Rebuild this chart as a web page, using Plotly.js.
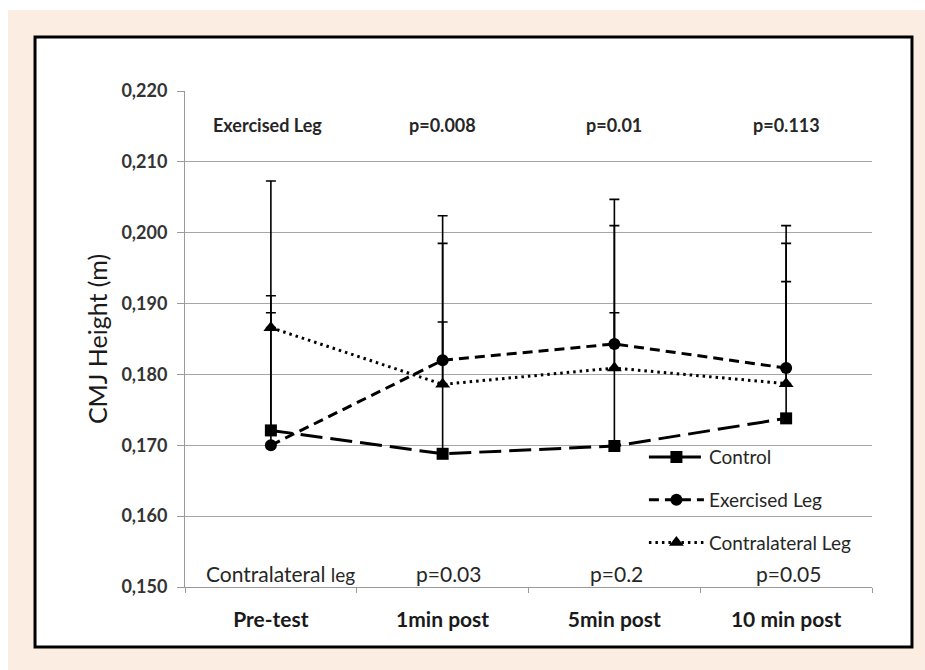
<!DOCTYPE html>
<html>
<head>
<meta charset="utf-8">
<script src="https://cdn.plot.ly/plotly-3.0.1.min.js"></script>
<style>html,body{margin:0;padding:0;background:#fff;}#chart{width:925px;height:670px;}</style>
</head>
<body>
<div id="chart"></div>
<script>
var categories = ["Pre-test", "1min post", "5min post", "10 min post"];
var controlMean = [0.1721, 0.1688, 0.1699, 0.1738];
var controlSD = [0.0166, 0.0186, 0.0188, 0.0193];
var exercisedMean = [0.1700, 0.1820, 0.1843, 0.1809];
var exercisedSD = [0.0211, 0.0204, 0.0204, 0.0201];
var contraMean = [0.1866, 0.1786, 0.1809, 0.1787];
var contraSD = [0.0207, 0.0199, 0.0201, 0.0198];
var topLabels = ["Exercised Leg", "p=0.008", "p=0.01", "p=0.113"];
var bottomLabels = ["Contralateral <span style='font-size:19px'>leg</span>", "p=0.03", "p=0.2", "p=0.05"];
var yTicks = [0.150, 0.160, 0.170, 0.180, 0.190, 0.200, 0.210, 0.220];

var FONT = "Lato, 'Open Sans', sans-serif";
function zeros(a){ return a.map(function(){ return 0; }); }
function errBar(sd){
  return {type:'data', symmetric:false, array:sd, arrayminus:zeros(sd), color:'#000', thickness:1.6, width:5};
}
var traces = [
  {x:categories, y:controlMean, name:'Control', type:'scatter', mode:'lines+markers',
   line:{color:'#000', width:3, dash:'22px,8px'}, marker:{symbol:'square', size:12, color:'#000'},
   error_y:errBar(controlSD), legendgroup:'a'},
  {x:categories, y:exercisedMean, name:'Exercised Leg', type:'scatter', mode:'lines+markers',
   line:{color:'#000', width:3, dash:'10px,6px'}, marker:{symbol:'circle', size:12, color:'#000'},
   error_y:errBar(exercisedSD), legendgroup:'b'},
  {x:categories, y:contraMean, name:'Contralateral Leg', type:'scatter', mode:'lines+markers',
   line:{color:'#000', width:3, dash:'2.5px,4px'}, marker:{symbol:'triangle-up', size:13, color:'#000'},
   error_y:errBar(contraSD), legendgroup:'c'}
];

var annotations = [];
topLabels.forEach(function(t, i){
  annotations.push({x:i, y:0.2152, xref:'x', yref:'y', text:t, showarrow:false,
    xshift: i===0 ? -3 : 0,
    font:{family:FONT, size:18, color:'#262626', weight:'bold'}});
});
bottomLabels.forEach(function(t, i){
  annotations.push({x:i, y:0.1519, xref:'x', yref:'y', text:t, showarrow:false,
    xshift: i===0 ? 10 : (i===1 ? 6 : 2),
    font:{family:FONT, size:21, color:'#262626'}});
});

var layout = {
  width:925, height:670,
  margin:{l:185, r:53, t:91, b:83},
  paper_bgcolor:'#ffffff', plot_bgcolor:'rgba(0,0,0,0)',
  separators:', ',
  font:{family:FONT, color:'#262626'},
  showlegend:true,
  legend:{x:0.668, y:0.300, xanchor:'left', yanchor:'top', bgcolor:'rgba(0,0,0,0)', itemwidth:55,
    font:{family:FONT, size:19, color:'#262626'}, traceorder:'grouped', tracegroupgap:15},
  xaxis:{type:'category', range:[-0.5, 3.5], showgrid:false, showline:true, linecolor:'#9a9a9a', linewidth:1,
    ticks:'outside', tickson:'boundaries', ticklen:5, tickcolor:'#9a9a9a', ticklabelstandoff:14,
    tickfont:{family:FONT, size:21, color:'#1a1a1a', weight:'bold'}, zeroline:false},
  yaxis:{range:[0.150, 0.220], tickvals:yTicks, tickformat:'.3f', showgrid:true, gridcolor:'#a6a6a6', gridwidth:1,
    showline:true, linecolor:'#9a9a9a', linewidth:1, ticks:'outside', ticklen:7, tickcolor:'#9a9a9a',
    ticklabelstandoff:6, zeroline:false,
    tickfont:{family:FONT, size:18, color:'#333333', weight:'bold'},
    title:{text:'CMJ Height (m)', font:{family:FONT, size:25, color:'#1a1a1a'}, standoff:6}},
  annotations:annotations,
  shapes:[
    {type:'rect', xref:'paper', yref:'paper', x0:-0.2576, x1:1.0771, y0:-0.1673, y1:1.1633,
     fillcolor:'#fcede3', line:{width:0}, layer:'below'},
    {type:'rect', xref:'paper', yref:'paper', x0:-0.2183, x1:1.0582, y0:-0.121, y1:1.1089,
     fillcolor:'#ffffff', line:{color:'#000', width:3}, layer:'below'}
  ]
};
Plotly.newPlot('chart', traces, layout, {displayModeBar:false, staticPlot:true});
</script>
</body>
</html>
